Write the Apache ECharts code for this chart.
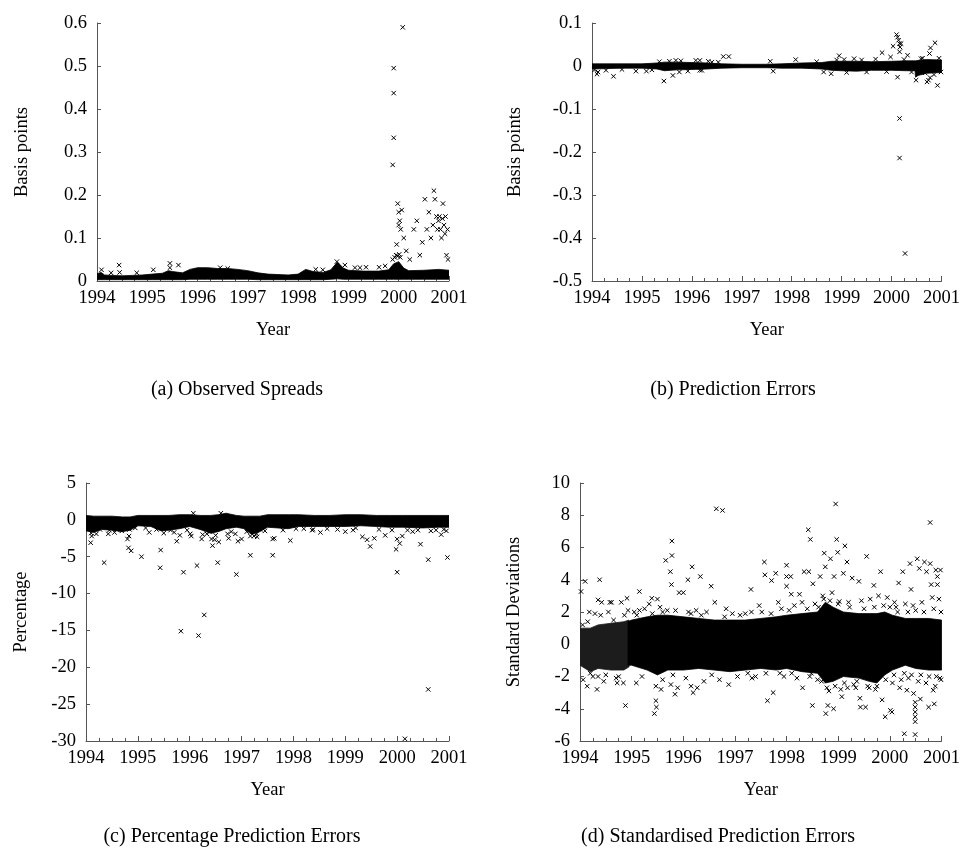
<!DOCTYPE html>
<html><head><meta charset="utf-8">
<script src="https://cdn.jsdelivr.net/npm/echarts@6/dist/echarts.min.js"></script>
<style>html,body{margin:0;padding:0;background:#fff}#c{width:963px;height:864px}</style>
</head><body><div id="c"></div>
<script>
// ---------- data (years are decimal years) ----------
const xTicks = [1994, 1995, 1996, 1997, 1998, 1999, 2000, 2001];
const captions = ['(a) Observed Spreads', '(b) Prediction Errors', '(c) Percentage Prediction Errors', '(d) Standardised Prediction Errors'];
const yNames = ['Basis points', 'Basis points', 'Percentage', 'Standard Deviations'];

// dense cloud envelopes: [year, low, high]
const bandA = [
 [1994.0,0.003,0.017],[1994.08,0.003,0.020],[1994.15,0.003,0.014],[1994.3,0.003,0.013],[1994.5,0.003,0.012],
 [1994.7,0.003,0.013],[1994.9,0.003,0.014],[1995.1,0.003,0.016],[1995.3,0.003,0.018],[1995.42,0.003,0.024],
 [1995.5,0.003,0.022],[1995.7,0.003,0.019],[1995.85,0.004,0.027],[1996.0,0.004,0.031],[1996.2,0.004,0.031],
 [1996.4,0.004,0.029],[1996.6,0.004,0.029],[1996.8,0.004,0.027],[1997.0,0.004,0.024],[1997.2,0.003,0.019],
 [1997.4,0.003,0.016],[1997.6,0.003,0.015],[1997.8,0.003,0.014],[1998.0,0.003,0.016],[1998.15,0.003,0.027],
 [1998.3,0.003,0.022],[1998.5,0.003,0.020],[1998.65,0.004,0.026],[1998.78,0.005,0.044],[1998.9,0.004,0.030],
 [1999.0,0.004,0.025],[1999.3,0.004,0.023],[1999.6,0.004,0.023],[1999.8,0.004,0.026],[1999.9,0.004,0.040],
 [2000.0,0.004,0.045],[2000.1,0.004,0.030],[2000.2,0.004,0.024],[2000.5,0.004,0.025],[2000.8,0.004,0.027],
 [2001.0,0.004,0.025]
];
const pointsA = [
 [1994.09,0.026],[1994.28,0.019],[1994.44,0.037],[1994.45,0.020],[1994.79,0.019],[1995.12,0.026],[1995.45,0.041],
 [1995.45,0.031],[1995.62,0.037],[1996.45,0.031],[1996.60,0.029],[1998.35,0.027],[1998.49,0.026],[1998.77,0.045],
 [1998.93,0.037],[1999.13,0.031],[1999.23,0.031],[1999.35,0.032],[1999.61,0.032],[1999.73,0.035],
 [1999.88,0.050],[1999.92,0.055],[1999.95,0.060],[1999.98,0.058],[2000.01,0.062],[2000.03,0.055],
 [1999.90,0.495],[1999.90,0.437],[1999.90,0.333],[1999.88,0.270],[2000.08,0.590],
 [1999.98,0.180],[2000.00,0.160],[2000.02,0.140],[2000.04,0.120],[2000.06,0.165],[2000.00,0.130],[1999.96,0.085],
 [2000.10,0.100],[2000.15,0.070],[2000.22,0.050],[2000.30,0.120],[2000.36,0.140],[2000.42,0.060],[2000.47,0.090],
 [2000.52,0.190],[2000.56,0.120],[2000.60,0.160],[2000.64,0.100],[2000.68,0.130],[2000.70,0.210],[2000.72,0.190],
 [2000.75,0.150],[2000.77,0.120],[2000.79,0.140],[2000.81,0.150],[2000.83,0.120],[2000.85,0.100],[2000.87,0.145],
 [2000.88,0.180],[2000.90,0.130],[2000.92,0.110],[2000.93,0.150],[2000.95,0.060],[2000.97,0.120],[2000.98,0.050]
];

const bandB = [
 [1994.0,-0.007,0.005],[1994.3,-0.006,0.005],[1994.6,-0.005,0.005],[1995.0,-0.005,0.005],[1995.3,-0.007,0.007],
 [1995.45,-0.011,0.009],[1995.7,-0.009,0.009],[1996.0,-0.008,0.008],[1996.3,-0.007,0.007],[1996.6,-0.005,0.005],
 [1997.0,-0.004,0.004],[1997.5,-0.004,0.004],[1997.8,-0.005,0.005],[1998.2,-0.005,0.007],[1998.6,-0.007,0.008],
 [1998.8,-0.010,0.011],[1999.0,-0.011,0.011],[1999.3,-0.012,0.011],[1999.6,-0.010,0.010],[2000.0,-0.010,0.011],
 [2000.3,-0.011,0.012],[2000.47,-0.011,0.012],[2000.48,-0.026,0.012],[2000.53,-0.022,0.013],[2000.7,-0.017,0.015],
 [2001.0,-0.015,0.014]
];
const pointsB = [
 [1994.10,-0.019],[1994.12,-0.014],[1994.28,-0.010],[1994.43,-0.024],[1994.88,-0.012],[1995.09,-0.012],[1995.44,-0.035],
 [1995.62,-0.022],[1995.68,0.013],[1995.75,-0.014],[1995.78,0.012],[1995.92,-0.012],[1996.08,0.013],[1996.16,0.013],
 [1996.16,-0.010],[1996.33,0.011],[1996.53,0.009],[1996.63,0.022],[1996.74,0.022],[1997.57,0.011],[1997.63,-0.012],
 [1998.08,0.015],[1998.64,-0.014],[1998.79,-0.018],[1998.95,0.024],[1999.05,0.015],[1999.25,0.017],[1999.68,0.016],
 [1999.81,0.031],[1999.98,0.021],[2000.03,0.046],[2000.10,0.073],[2000.12,0.067],[2000.14,0.060],[2000.16,0.052],
 [2000.17,0.044],[2000.19,0.052],[2000.16,0.033],[2000.12,-0.026],[2000.16,-0.122],[2000.16,-0.214],[2000.27,-0.436],
 [2000.32,0.025],[2000.49,-0.033],[2000.59,0.017],[2000.67,-0.016],[2000.71,-0.037],[2000.74,-0.033],[2000.77,-0.027],
 [2000.76,0.029],[2000.78,0.042],[2000.87,0.054],[2000.92,-0.045],[2000.99,-0.014],
 [1994.05,-0.009],[1994.6,-0.008],[1995.2,-0.009],[1995.35,0.010],[1995.55,0.011],[1996.2,-0.010],[1996.4,0.009],
 [1998.5,0.010],[1998.9,0.014],[1999.1,-0.015],[1999.4,0.014],[1999.5,-0.014],[1999.9,-0.013],[2000.25,0.015],
 [2000.4,-0.014],[2000.62,0.018],[2000.85,-0.020],[2000.95,0.018]
];

const bandC = [
 [1994.0,-1.5,0.6],[1994.15,-1.7,0.5],[1994.3,-1.3,0.5],[1994.5,-1.4,0.5],[1994.7,-1.6,0.4],[1994.85,-1.4,0.4],
 [1995.0,-0.8,0.6],[1995.25,-0.9,0.6],[1995.45,-1.5,0.6],[1995.6,-1.4,0.6],[1995.8,-1.2,0.7],[1996.0,-0.9,0.7],
 [1996.2,-1.3,0.6],[1996.4,-1.8,0.6],[1996.55,-1.6,0.7],[1996.7,-1.2,0.9],[1996.9,-1.0,0.6],[1997.05,-1.2,0.5],
 [1997.2,-2.0,0.5],[1997.35,-1.6,0.5],[1997.5,-1.0,0.7],[1997.7,-1.1,0.7],[1997.9,-1.2,0.7],[1998.1,-0.9,0.7],
 [1998.4,-0.9,0.6],[1998.7,-0.9,0.6],[1999.0,-0.9,0.7],[1999.3,-0.8,0.7],[1999.6,-0.9,0.6],[1999.85,-1.0,0.6],
 [2000.1,-1.0,0.6],[2000.5,-1.1,0.6],[2000.8,-1.0,0.6],[2001.0,-1.0,0.6]
];
const pointsC = [
 [1994.09,-3.1],[1994.11,-2.2],[1994.10,-1.8],[1994.27,-1.3],[1994.35,-5.8],[1994.43,-1.9],[1994.45,-1.4],[1994.59,-1.3],
 [1994.69,-1.5],[1994.80,-2.6],[1994.83,-2.2],[1994.82,-3.8],[1994.87,-4.2],[1994.84,-1.3],[1995.07,-5.0],[1995.22,-1.7],
 [1995.36,-1.3],[1995.44,-4.1],[1995.43,-6.5],[1995.63,-1.4],[1995.75,-2.9],[1995.81,-2.1],[1995.83,-15.1],[1995.88,-7.1],
 [1996.01,-1.9],[1996.03,-2.2],[1996.07,0.9],[1996.14,-6.2],[1996.17,-15.7],[1996.23,-2.6],[1996.28,-12.9],[1996.33,-1.9],
 [1996.39,-1.6],[1996.42,-2.6],[1996.44,-3.5],[1996.48,-2.7],[1996.54,-5.8],[1996.56,-3.0],[1996.73,-1.9],[1996.75,-2.5],
 [1996.88,-1.9],[1996.90,-7.4],[1996.93,-2.9],[1997.00,-2.6],[1997.17,-2.2],[1997.17,-4.8],[1997.24,-2.2],[1997.29,-1.9],
 [1997.36,-1.3],[1997.60,-4.8],[1997.63,-2.5],[1997.60,-2.6],[1997.94,-2.8],[1998.36,-1.4],[1998.38,-1.3],[1998.52,-1.7],
 [1998.65,-1.2],[1999.00,-1.6],[1999.15,-1.4],[1999.33,-2.3],[1999.42,-2.7],[1999.48,-3.6],[1999.56,-2.5],[1999.77,-2.1],
 [1999.90,-1.4],[1999.98,-4.0],[2000.00,-2.6],[2000.00,-7.1],[2000.05,-3.2],[2000.10,-2.2],[2000.15,-29.7],[2000.30,-1.6],
 [2000.45,-3.3],[2000.60,-5.4],[2000.60,-23.0],[2000.65,-1.5],[2000.85,-2.0],[2000.97,-5.1],[2000.95,-1.5],
 [1994.2,-1.9],[1994.55,-1.7],[1994.95,-1.1],[1995.15,-1.1],[1995.5,-1.8],[1995.7,-1.7],[1995.95,-1.4],[1996.25,-2.0],
 [1996.5,-2.1],[1996.6,0.9],[1996.8,-1.6],[1997.1,-1.6],[1997.3,-2.3],[1997.45,-1.5],[1997.8,-1.4],[1998.05,-1.2],
 [1998.2,-1.2],[1998.85,-1.3],[1999.2,-1.1],[1999.65,-1.3],[2000.2,-1.4],[2000.4,-1.4],[2000.75,-1.4],[2000.9,-1.3]
];

const bandDLight = [
 [1994.0,-1.3,1.0],[1994.2,-1.7,1.0],[1994.35,-1.5,1.2],[1994.6,-1.6,1.3],[1994.85,-1.6,1.4],[1994.95,-1.4,1.5]
];
const bandD = [
 [1994.93,-1.3,1.4],[1995.0,-1.3,1.5],[1995.3,-1.6,1.7],[1995.5,-1.9,1.8],[1995.7,-1.6,1.8],[1996.0,-1.6,1.7],
 [1996.3,-1.5,1.6],[1996.6,-1.6,1.5],[1996.9,-1.7,1.5],[1997.2,-1.6,1.5],[1997.5,-1.5,1.6],[1997.8,-1.6,1.7],
 [1998.0,-1.5,1.8],[1998.3,-1.7,1.9],[1998.6,-1.8,2.0],[1998.75,-2.4,2.6],[1998.9,-2.3,2.3],[1999.1,-2.0,2.0],
 [1999.4,-2.1,1.9],[1999.6,-2.3,1.9],[1999.75,-2.4,1.9],[1999.9,-1.9,2.0],[2000.05,-1.6,1.8],[2000.3,-1.3,1.6],
 [2000.5,-1.5,1.6],[2000.75,-1.6,1.6],[2001.0,-1.6,1.5]
];
const pointsD = [
 [1994.02,3.27],[1994.10,3.9],[1994.06,-2.2],[1994.14,-2.6],[1994.18,2.0],[1994.29,1.9],[1994.33,-2.8],[1994.35,-2.0],
 [1994.38,4.0],[1994.35,2.75],[1994.42,2.6],[1994.46,-2.3],[1994.58,2.6],[1994.61,2.6],[1994.70,-2.1],[1994.72,-2.4],
 [1994.80,2.6],[1994.84,-2.4],[1994.88,-3.8],[1994.91,2.85],[1994.93,2.1],[1995.09,-2.4],[1995.15,3.27],[1995.15,2.1],
 [1995.34,2.5],[1995.39,2.85],[1995.44,-4.3],[1995.47,-3.5],[1995.48,-3.9],[1995.47,-2.6],[1995.50,2.8],[1995.57,-2.8],
 [1995.66,5.2],[1995.69,2.1],[1995.75,4.5],[1995.78,6.4],[1995.78,5.5],[1995.77,3.7],[1995.76,-2.5],[1995.84,-3.1],
 [1995.89,-2.7],[1995.92,3.2],[1996.00,3.2],[1996.09,4.0],[1996.17,4.8],[1996.15,-2.6],[1996.19,-3.0],[1996.27,-2.7],
 [1996.33,4.2],[1996.54,3.6],[1996.61,2.6],[1996.64,8.4],[1996.76,8.3],[1996.83,2.2],[1996.88,-2.5],[1997.31,3.4],
 [1997.32,2.0],[1997.33,-2.1],[1997.47,2.4],[1997.57,5.1],[1997.58,4.3],[1997.63,-3.5],[1997.71,3.95],[1997.74,-3.0],
 [1997.79,4.4],[1997.84,2.6],[1997.87,-1.8],[1998.00,4.9],[1998.00,3.6],[1998.00,4.2],[1998.08,4.2],[1998.09,3.1],
 [1998.25,3.1],[1998.31,-2.7],[1998.34,4.5],[1998.42,7.1],[1998.43,4.5],[1998.46,6.5],[1998.48,-1.8],[1998.50,-3.8],
 [1998.51,3.75],[1998.65,4.2],[1998.73,5.65],[1998.75,4.8],[1998.76,-4.3],[1998.80,-3.8],[1998.85,5.3],[1998.91,-4.0],
 [1998.92,4.2],[1998.95,8.7],[1998.97,6.5],[1998.99,5.7],[1999.02,2.65],[1999.07,-3.25],[1999.10,4.4],[1999.13,6.1],
 [1999.17,5.1],[1999.18,-2.7],[1999.27,4.1],[1999.34,-2.7],[1999.40,3.9],[1999.42,-3.35],[1999.43,-3.9],[1999.55,5.45],
 [1999.53,-3.9],[1999.69,3.65],[1999.82,4.5],[1999.85,-3.45],[1999.91,-4.5],[2000.01,-4.1],[2000.04,-4.2],[2000.09,2.6],
 [2000.17,3.8],[2000.19,-2.7],[2000.25,4.5],[2000.28,-5.55],[2000.33,-2.85],[2000.39,5.0],[2000.41,3.4],[2000.46,-3.05],
 [2000.49,-3.9],[2000.49,-4.2],[2000.49,-4.5],[2000.49,-4.8],[2000.49,-3.6],[2000.49,-5.6],[2000.53,5.3],[2000.57,4.7],
 [2000.59,-3.4],[2000.67,5.1],[2000.71,4.5],[2000.75,-3.9],[2000.78,7.55],[2000.78,5.0],[2000.80,3.7],[2000.84,-2.85],
 [2000.86,-3.7],[2000.89,4.6],[2000.92,4.2],[2000.92,3.7],[2000.97,-2.1],[2000.98,4.6],
 [1994.05,1.2],[1994.15,1.4],[1994.20,-1.8],[1994.25,-2.0],[1994.40,1.8],[1994.50,-1.9],[1994.55,2.0],[1994.65,1.5],
 [1994.75,-2.0],[1994.86,1.8],[1995.05,2.0],[1995.20,-2.0],[1995.25,2.2],[1995.55,2.3],[1995.60,-2.2],[1995.85,2.1],
 [1996.05,-2.1],[1996.10,2.0],[1996.25,2.1],[1996.40,-2.3],[1996.45,2.0],[1996.70,-2.2],[1996.95,1.9],[1997.05,-2.0],
 [1997.20,1.9],[1997.40,-2.0],[1997.52,2.0],[1997.90,2.2],[1997.95,-2.0],[1998.15,2.4],[1998.20,-2.1],[1998.30,2.6],
 [1998.55,2.5],[1998.60,-2.2],[1998.70,3.0],[1998.82,-2.9],[1998.88,3.2],[1999.05,-2.8],[1999.20,2.6],[1999.30,-2.5],
 [1999.45,2.7],[1999.60,-2.7],[1999.62,2.8],[1999.75,-2.6],[1999.78,3.0],[1999.95,2.9],[2000.05,-2.4],[2000.12,2.3],
 [2000.22,-2.2],[2000.30,2.5],[2000.36,-2.1],[2000.45,2.4],[2000.55,-2.3],[2000.62,2.6],[2000.70,-2.4],[2000.82,2.9],
 [2000.88,-2.6],[2000.95,2.8],
 [1995.1,1.8],[1995.4,1.9],[1995.6,2.0],[1995.8,-1.9],[1996.15,1.9],[1996.35,1.8],[1996.55,-1.9],[1996.8,1.7],
 [1997.1,1.8],[1997.25,-1.8],[1997.6,-1.8],[1997.7,1.9],[1998.05,2.1],[1998.1,-1.8],[1998.4,2.2],[1998.45,-2.0],
 [1998.62,2.3],[1998.68,-2.3],[1998.72,2.8],[1998.78,-2.7],[1998.84,2.7],[1998.94,-2.6],[1999.0,2.5],[1999.12,-2.4],
 [1999.22,2.3],[1999.36,-2.3],[1999.5,2.2],[1999.57,-2.6],[1999.7,2.3],[1999.72,-2.8],[1999.88,2.4],[1999.92,-2.2],
 [2000.0,2.3],[2000.08,-1.9],[2000.15,2.0],[2000.28,-1.8],[2000.35,2.0],[2000.42,-1.9],[2000.5,2.1],[2000.6,-1.9],
 [2000.66,2.0],[2000.76,-2.0],[2000.85,2.2],[2000.9,-2.0],[2000.99,2.0],[2000.99,-2.2]
];

// ---------- rendering ----------
const FONT = '"Liberation Serif","Times New Roman",serif';
const AX = '#555';
const grids = [
  {left: 97, top: 23, width: 352, height: 258},
  {left: 592, top: 23, width: 353, height: 258},
  {left: 86, top: 483, width: 363, height: 258},
  {left: 580, top: 483, width: 365, height: 258}
];
const yCfg = [
  {min: 0, max: 0.6, interval: 0.1, gap: 65},
  {min: -0.5, max: 0.1, interval: 0.1, gap: 67},
  {min: -30, max: 5, interval: 5, gap: 55},
  {min: -6, max: 10, interval: 2, gap: 56}
];
const bands = [[bandA], [bandB], [bandC], [bandDLight, bandD]];
const bandFill = ['#000', '#1c1c1c'];
const points = [pointsA, pointsB, pointsC, pointsD];

// one filled polygon per envelope: low edge forward, high edge backward
function makeBandItem(arr, fill) {
  return function (params, api) {
    if (params.dataIndex !== 0) return null;
    const pts = [];
    for (let k = 0; k < arr.length; k++) pts.push(api.coord([arr[k][0], arr[k][1]]));
    for (let k = arr.length - 1; k >= 0; k--) pts.push(api.coord([arr[k][0], arr[k][2]]));
    return {type: 'polygon', shape: {points: pts}, style: {fill: fill, stroke: fill, lineWidth: 0.8}};
  };
}
function crossItem(params, api) {
  const p = api.coord([api.value(0), api.value(1)]);
  const s = 2.2;
  return {type: 'group', children: [
    {type: 'line', shape: {x1: p[0] - s, y1: p[1] - s, x2: p[0] + s, y2: p[1] + s}, style: {stroke: '#000', lineWidth: 1}},
    {type: 'line', shape: {x1: p[0] - s, y1: p[1] + s, x2: p[0] + s, y2: p[1] - s}, style: {stroke: '#000', lineWidth: 1}}
  ]};
}

const xAxis = grids.map((g, i) => ({
  gridIndex: i, type: 'value', min: xTicks[0], max: xTicks[xTicks.length - 1], interval: 1,
  axisLine: {show: true, onZero: false, lineStyle: {color: AX, width: 1}},
  axisTick: {show: true, inside: true, length: 5, lineStyle: {color: AX}},
  minorTick: {show: true, splitNumber: 4, length: 3, lineStyle: {color: AX}},
  splitLine: {show: false},
  axisLabel: {fontFamily: FONT, fontSize: 18.5, color: '#000', margin: 8, formatter: v => String(v)},
  name: 'Year', nameLocation: 'middle', nameGap: 40,
  nameTextStyle: {fontFamily: FONT, fontSize: 18.5, color: '#000'}
}));
const yAxis = grids.map((g, i) => ({
  gridIndex: i, type: 'value', min: yCfg[i].min, max: yCfg[i].max, interval: yCfg[i].interval,
  axisLine: {show: true, onZero: false, lineStyle: {color: AX, width: 1}},
  axisTick: {show: true, inside: true, length: 4, lineStyle: {color: AX}},
  splitLine: {show: false},
  axisLabel: {fontFamily: FONT, fontSize: 18.5, color: '#000', margin: 10},
  name: yNames[i], nameLocation: 'middle', nameGap: yCfg[i].gap,
  nameTextStyle: {fontFamily: FONT, fontSize: 18.5, color: '#000'}
}));
const series = [];
for (let i = 0; i < 4; i++) {
  bands[i].forEach((arr, k) => {
    const fill = bands[i].length > 1 && k === 0 ? bandFill[1] : bandFill[0];
    series.push({type: 'custom', xAxisIndex: i, yAxisIndex: i, renderItem: makeBandItem(arr, fill), clip: true,
      encode: {x: 0, y: [1, 2]}, data: arr, silent: true, z: 2});
  });
  series.push({type: 'custom', xAxisIndex: i, yAxisIndex: i, renderItem: crossItem, clip: false,
    encode: {x: 0, y: 1}, data: points[i], silent: true, z: 3});
}
const capPos = [[237, 390], [733, 390], [232, 837], [718, 837]];
const graphic = captions.map((t, i) => ({
  type: 'text', x: capPos[i][0], y: capPos[i][1],
  style: {text: t, fontFamily: FONT, fontSize: 20, fill: '#000', align: 'center', verticalAlign: 'middle'}
}));
const chart = echarts.init(document.getElementById('c'), null, {renderer: 'canvas'});
chart.setOption({animation: false, backgroundColor: '#fff', grid: grids, xAxis, yAxis, series, graphic});
</script></body></html>
